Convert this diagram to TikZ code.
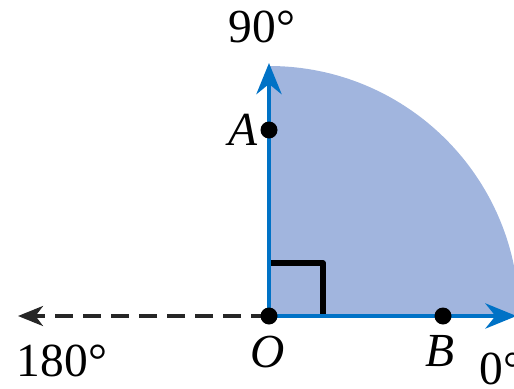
\documentclass[tikz,border=0pt]{standalone}
\usepackage{fontspec}
\setmainfont{Liberation Serif}
\usetikzlibrary{arrows.meta}
\definecolor{quadfill}{RGB}{161,181,222}
\definecolor{rayblue}{RGB}{0,114,198}
\tikzset{
  dot/.style={circle,fill=black,inner sep=0pt,minimum size=0.34cm},
  ray/.style={rayblue,line width=2.8pt,-{Stealth[length=0.62cm,width=0.5cm,inset=0.2cm]}},
}
\begin{document}
\begin{tikzpicture}[font=\fontsize{27}{32}\selectfont, line join=round]
	\useasboundingbox (-5.38,-1.44) rectangle (4.9,6.32);
	\fill[quadfill] (0,0)--(5,0) arc (0:90:5)--cycle;
	\coordinate (O0) at (0,0);
	\coordinate (E) at (4.95,0);
	\coordinate (N) at (0,5.06);
	\coordinate (W) at (-5.02,0);
	\draw[black, line width=3pt] (0,1.06)-|(1.08,0);
	\draw[ray] (O0)--(E);
	\draw[ray] (O0)--(N);
	\draw[dashed, dash pattern=on 0.36cm off 0.2cm, line width=2pt, black!85, -{Stealth[length=0.5cm,width=0.4cm,inset=0.15cm]}] (O0)--(W);
	\node[dot] (O) at (0,0) {};
	\node[dot] (A) at (0,3.72) {};
	\node[dot] (B) at (3.48,0) {};
	\path (-0.14,5.78) node (n90) {90°}
	      (A.west) node[left,inner sep=1pt] (lA) {\textit{A}}
	      (-0.02,-0.72) node (lO) {\textit{O}}
	      (3.42,-0.7) node (lB) {\textit{B}}
	      (-4.14,-0.9) node (n180) {180°}
	      (4.2,-1.06) node[right,inner sep=0pt] (n0) {0°};
\end{tikzpicture}
\end{document}
